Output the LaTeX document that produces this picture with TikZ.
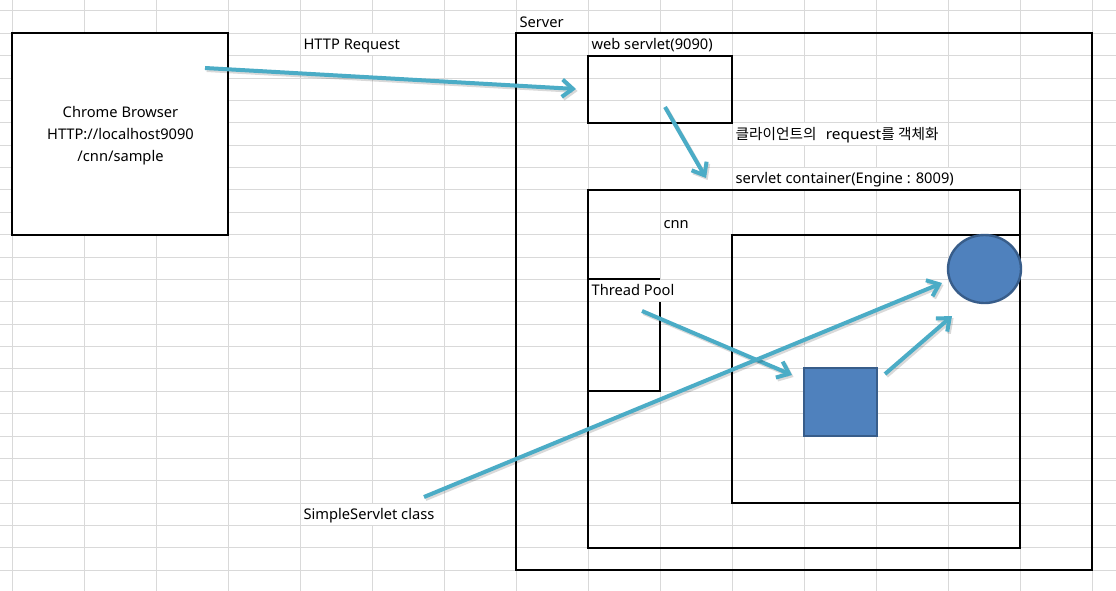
\documentclass[tikz,border=0pt]{standalone}
\usepackage{fontspec}
\setmainfont{Noto Sans}
\newfontfamily\krfont{Noto Sans CJK KR}
\newfontfamily\widefont{Noto Sans}[FakeStretch=1.05]
\usetikzlibrary{arrows.meta,shapes.geometric}
\definecolor{gridc}{HTML}{D9D9D9}
\definecolor{arrc}{HTML}{4BACC6}
\definecolor{shapefill}{HTML}{4F81BD}
\definecolor{shapeedge}{HTML}{385D8A}
\tikzset{
  gridline/.style={draw=gridc, line width=0.75pt},
  blackbox/.style={draw=black, line width=1.5pt, inner sep=0pt, outer sep=0pt},
  bluebox/.style={draw=shapeedge, fill=shapefill, line width=1.8pt, inner sep=0pt, outer sep=0pt},
  celltext/.style={anchor=west, fill=white, inner xsep=1pt, inner ysep=0pt,
    minimum height=16pt, text height=10.9pt, text depth=3.1pt,
    font=\fontsize{11}{13}\selectfont},
  arrmain/.style={draw=arrc, line width=3pt, -{Straight Barb[length=8pt,width=13pt]}},
  arrshadow/.style={draw=black, opacity=0.15, line width=3pt,
    -{Straight Barb[length=8pt,width=13pt]},
    transform canvas={shift={(1.2pt,-1.5pt)}}},
}
\newcommand{\cyanarrow}[2]{\draw[arrshadow] (#1) -- (#2); \draw[arrmain] (#1) -- (#2);}
\newcommand{\krs}{\krfont\fontsize{11}{13}\selectfont}
\begin{document}
\begin{tikzpicture}[x=0.75pt,y=-0.75pt]
\useasboundingbox (0,0) rectangle (1116,591);
\fill[white] (0,0) rectangle (1116,591);
% spreadsheet grid
\foreach \i in {0,...,15} \draw[gridline] ({12+72*\i},0) -- ({12+72*\i},591);
\foreach \j in {0,...,25} \draw[gridline] (0,{11+22.37*\j}) -- (1116,{11+22.37*\j});
% cell texts
\node[celltext] (serverlbl) at (518,22.2) {Server};
\node[celltext] (httpreq) at (302,44.55) {HTTP Request};
\node[celltext] (weblbl) at (590,44.55) {web servlet(9090)};
\node[celltext] (korlbl) at (734,134) {{\krs 클라이언트의}\hspace{7pt}{\widefont request}{\krs 를 객체화}};
\node[celltext] (contlbl) at (734,178.8) {servlet container(Engine : 8009)};
\node[celltext] (cnnlbl) at (662,223.5) {cnn};
\node[celltext] (poollbl) at (590,290.6) {Thread Pool};
\node[celltext] (simplelbl) at (302,514.3) {SimpleServlet class};
% boxes
\node[blackbox, fill=white, minimum width=162pt, minimum height=151pt] (chrome) at (120,134) {};
\node[align=center, inner sep=0pt, font=\fontsize{11}{16.5}\selectfont] (chrometxt) at (120.5,136)
  {Chrome Browser\\HTTP://localhost9090\\/cnn/sample};
\node[blackbox, minimum width=432pt, minimum height=402.6pt] (server) at (804,301.8) {};
\node[blackbox, minimum width=108pt, minimum height=50.4pt] (web) at (660,89.3) {};
\node[blackbox, minimum width=324pt, minimum height=268.4pt] (container) at (804,369) {};
\node[blackbox, minimum width=216pt, minimum height=201.3pt] (cnn) at (876,368.9) {};
% thread pool (partial border)
\coordinate (tpA) at (588,279.4);
\coordinate (tpB) at (660,279.4);
\coordinate (tpC) at (660,301.8);
\coordinate (tpD) at (660,391.3);
\coordinate (tpE) at (588,391.3);
\draw[line width=1.5pt] (tpA) -- (tpB);
\draw[line width=1.5pt] (tpC) -- (tpD) -- (tpE);
% blue shapes
\node[bluebox, minimum width=54.75pt, minimum height=51pt] (square) at (840.5,402) {};
\node[bluebox, ellipse, minimum width=54.75pt, minimum height=51pt] (circ) at (984.5,269) {};
% arrow end points
\coordinate (a1s) at (205,68);
\coordinate (a1e) at (576,89);
\coordinate (a2s) at (665,107);
\coordinate (a2e) at (706,178);
\coordinate (a3s) at (642,311);
\coordinate (a3e) at (792,375);
\coordinate (a4s) at (885,374);
\coordinate (a4e) at (952,316);
\coordinate (a5s) at (424,497);
\coordinate (a5e) at (942,283);
\cyanarrow{a1s}{a1e}
\cyanarrow{a2s}{a2e}
\cyanarrow{a3s}{a3e}
\cyanarrow{a4s}{a4e}
\cyanarrow{a5s}{a5e}
\end{tikzpicture}
\end{document}
